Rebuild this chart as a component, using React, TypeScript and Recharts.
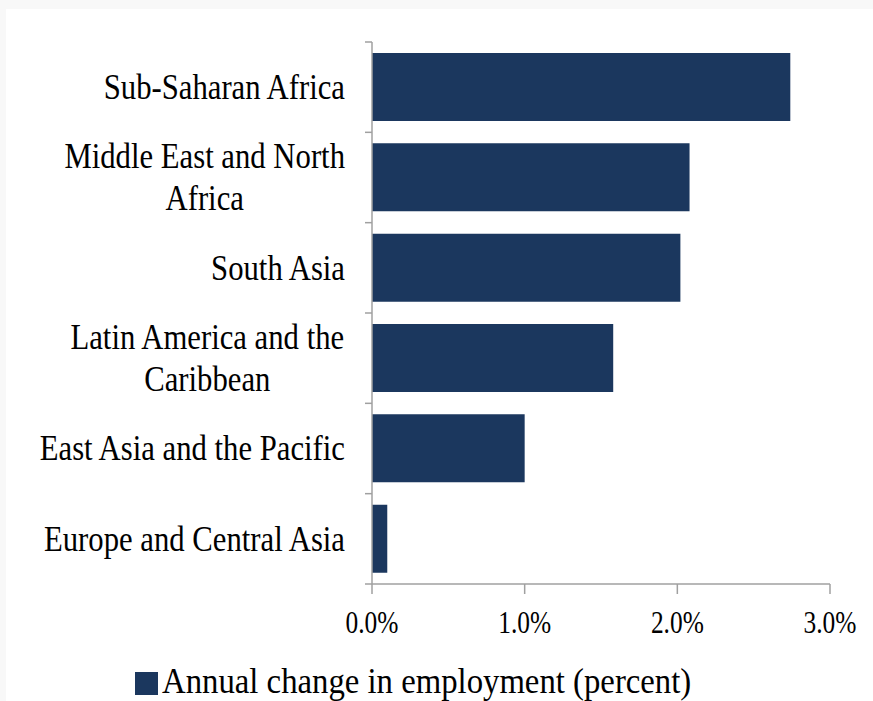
import React from 'react';
import { BarChart, Bar, XAxis, YAxis, Legend } from 'recharts';

const regions = [
  'Sub-Saharan Africa',
  'Middle East and North\nAfrica',
  'South Asia',
  'Latin America and the\nCaribbean',
  'East Asia and the Pacific',
  'Europe and Central Asia',
];
const employmentChange = [2.74, 2.08, 2.02, 1.58, 1.0, 0.1];
const xTicks = [0, 1, 2, 3];
const seriesName = 'Annual change in employment (percent)';

const data = regions.map((name, i) => ({ name, value: employmentChange[i] }));

const FONT = '"Liberation Serif", "Times New Roman", serif';
const BAR_COLOR = '#1b375e';
const AXIS_COLOR = '#a0a0a0';

const CHART_W = 867;
const CHART_H = 692;
const MARGIN = { top: 33, right: 43, left: 0, bottom: 57 };
const Y_AXIS_W = 366;
const X_AXIS_H = 60;
const PLOT_H = CHART_H - MARGIN.top - MARGIN.bottom - X_AXIS_H;

const LABEL_SIZE = 35.5;
const LABEL_SCALE = 0.865;
const LINE_GAP = 42;

let ctx: CanvasRenderingContext2D | null = null;
function textWidth(s: string, size: number) {
  if (!ctx) ctx = document.createElement('canvas').getContext('2d');
  if (!ctx) return s.length * size * 0.45;
  ctx.font = `${size}px "Liberation Serif"`;
  return ctx.measureText(s).width;
}

const YTick = (props: any) => {
  const { x, y, payload, index } = props;
  const lines: string[] = String(payload.value).split('\n');
  const half = payload.offset || PLOT_H / regions.length / 2;
  const axisX = x + 27;
  const w = Math.max(...lines.map((l) => textWidth(l, LABEL_SIZE)));
  const capH = LABEL_SIZE * 0.662;
  const first = y + capH / 2 - ((lines.length - 1) * LINE_GAP) / 2;
  return (
    <g>
      <line x1={axisX - 7} x2={axisX} y1={y - half} y2={y - half} stroke={AXIS_COLOR} strokeWidth={1.5} />
      {index === regions.length - 1 && (
        <line x1={axisX - 7} x2={axisX} y1={y + half} y2={y + half} stroke={AXIS_COLOR} strokeWidth={1.5} />
      )}
      <g transform={`translate(${x},0) scale(${LABEL_SCALE},1)`}>
        {lines.map((l, i) => (
          <text
            key={i}
            x={lines.length > 1 ? -w / 2 : 0}
            y={first + i * LINE_GAP}
            textAnchor={lines.length > 1 ? 'middle' : 'end'}
            fontFamily={FONT}
            fontSize={LABEL_SIZE}
            fill="#000"
          >
            {l}
          </text>
        ))}
      </g>
    </g>
  );
};

const XTick = (props: any) => {
  const { x, y, payload } = props;
  return (
    <text
      transform={`translate(${x},${y + 37}) scale(0.82,1)`}
      textAnchor="middle"
      fontFamily={FONT}
      fontSize={31}
      fill="#000"
    >
      {`${Number(payload.value).toFixed(1)}%`}
    </text>
  );
};

const LegendBox = () => (
  <svg width={620} height={45} style={{ overflow: 'visible' }}>
    <rect x={9} y={3} width={23} height={23} fill={BAR_COLOR} />
    <text
      transform="translate(36,24) scale(0.91,1)"
      fontFamily={FONT}
      fontSize={36}
      fill="#000"
    >
      {seriesName}
    </text>
  </svg>
);

export default function App() {
  return (
    <div style={{ position: 'fixed', inset: 0, background: '#f8f8f8', overflow: 'hidden' }}>
      <div style={{ position: 'absolute', left: 6, top: 9, width: CHART_W, height: CHART_H, background: '#fff' }}>
        <BarChart width={CHART_W} height={CHART_H} data={data} layout="vertical" margin={MARGIN}>
          <XAxis
            type="number"
            domain={[0, 3]}
            ticks={xTicks}
            height={X_AXIS_H}
            tickSize={10}
            stroke={AXIS_COLOR}
            strokeWidth={1.5}
            tick={<XTick />}
          />
          <YAxis
            type="category"
            dataKey="name"
            width={Y_AXIS_W}
            tickLine={false}
            tickSize={7}
            tickMargin={20}
            stroke={AXIS_COLOR}
            strokeWidth={1.5}
            tick={<YTick />}
            interval={0}
          />
          <Legend
            layout="horizontal"
            verticalAlign="middle"
            align="center"
            wrapperStyle={{ left: 120, top: 660, width: 620, height: 32 }}
            content={<LegendBox />}
          />
          <Bar dataKey="value" name={seriesName} fill={BAR_COLOR} barSize={68} isAnimationActive={false} />
        </BarChart>
      </div>
    </div>
  );
}
